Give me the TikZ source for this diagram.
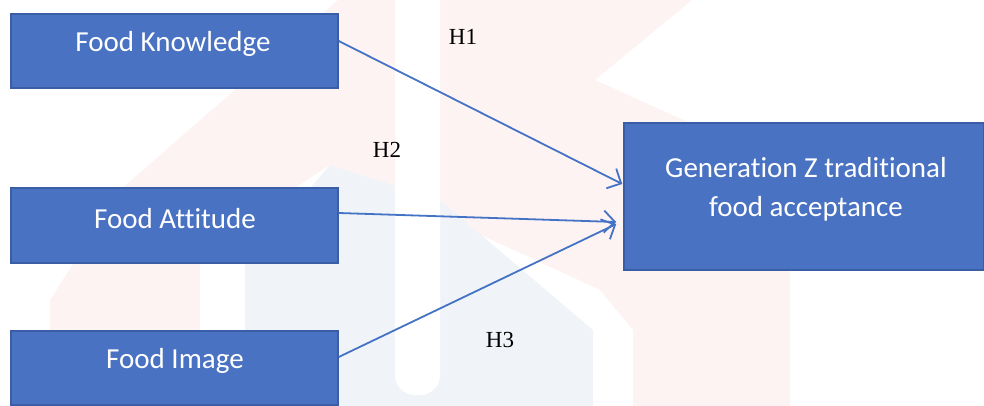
\documentclass[tikz,border=0pt]{standalone}
\usepackage{fontspec}
\setmainfont{Carlito}[Ligatures=NoCommon]
\newfontfamily\tnr{Liberation Serif}
\usetikzlibrary{arrows.meta,calc}
\definecolor{boxfill}{HTML}{4A72C2}
\definecolor{boxline}{HTML}{3A5EA6}
\definecolor{arrowc}{HTML}{4472C4}
\definecolor{wmpink}{HTML}{FEF3F3}
\definecolor{wmblue}{HTML}{F0F4F9}
\begin{document}
\begin{tikzpicture}[x=1pt,y=-1pt,
  boxst/.style={draw=boxline,line width=1.5pt,fill=boxfill,inner sep=0pt},
  btext/.style={text=white,font=\fontsize{29}{39}\selectfont,align=center,inner sep=0pt},
  hlab/.style={font=\tnr\fontsize{23}{26}\selectfont,text=black,inner sep=0pt},
  conn/.style={draw=arrowc,line width=1.8pt,-{Straight Barb[length=11pt,width=22pt,line width=1.8pt]}}]
\useasboundingbox (0,0) rectangle (984,406);
% faint watermark
\fill[wmpink] (338,0) -- (692,0) -- (595,80) -- (690,123) -- (790,270) -- (790,406) -- (633,406) -- (633,330) -- (600,290) -- (330,165) -- (200,250) -- (200,406) -- (50,406) -- (50,300) -- (120,190) -- cycle;
\fill[wmblue] (330,165) -- (440,200) -- (593,330) -- (593,406) -- (245,406) -- (245,263) -- cycle;
\fill[white,rounded corners=20pt] (395,-30) rectangle (440,395);
% boxes
\node[boxst,minimum width=327pt,minimum height=74pt] (kn) at (174.5,51) {};
\node[boxst,minimum width=327pt,minimum height=75pt] (at) at (174.5,225.5) {};
\node[boxst,minimum width=327pt,minimum height=74pt] (im) at (174.5,368) {};
\node[boxst,minimum width=360pt,minimum height=147pt] (gz) at (804,196.5) {};
\node[btext] (knt) at (173,44) {Food Knowledge};
\node[btext] (att) at (175,219) {Food Attitude};
\node[btext] (imt) at (175,361) {Food Image};
\node[btext] (gzt) at (806,189) {Generation Z traditional\\food acceptance};
% connectors
\draw[conn] ([yshift=10pt]kn.east) -- ([yshift=12.5pt,xshift=-1pt]gz.west);
\draw[conn] ([yshift=12.5pt]at.east) -- ([yshift=-25.5pt,xshift=-7pt]gz.west);
\draw[conn] ([yshift=11pt]im.east) -- ([yshift=-27.5pt,xshift=-7pt]gz.west);
% labels
\node[hlab] (h1) at (463,37) {H1};
\node[hlab] (h2) at (387,150) {H2};
\node[hlab] (h3) at (500,340) {H3};
\end{tikzpicture}
\end{document}
